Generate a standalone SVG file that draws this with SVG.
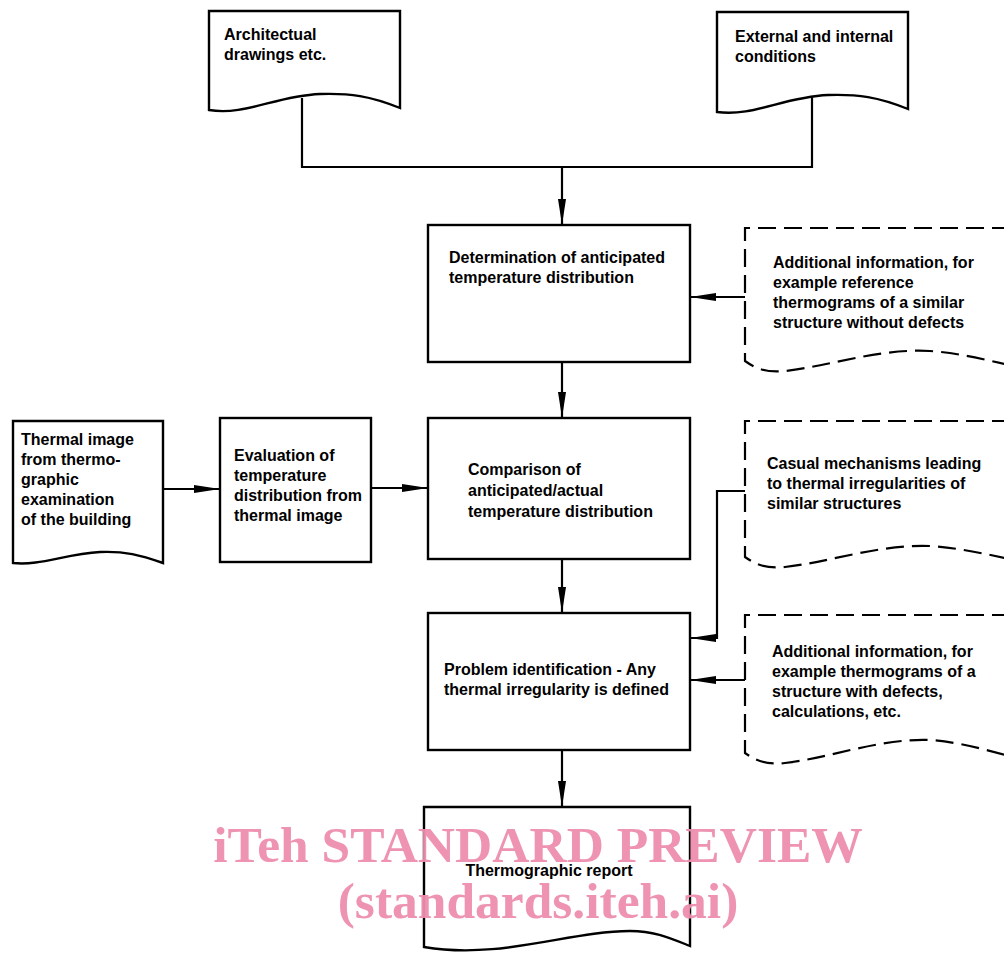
<svg xmlns="http://www.w3.org/2000/svg" width="1004" height="955" viewBox="0 0 1004 955">
<style>
.n{fill:#fff;stroke:#000;stroke-width:2.4}
.d{fill:#fff;stroke:#000;stroke-width:2.2;stroke-dasharray:18 8}
.t{font-family:"Liberation Sans",Arial,sans-serif;font-size:16px;font-weight:bold;fill:#000}
.c{fill:none;stroke:#000;stroke-width:2.2}
.w{font-family:"Liberation Serif","Times New Roman",serif;font-weight:bold;font-size:51.5px;fill:#ee8fae;opacity:0.95}
</style>
<defs>
<marker id="ah" viewBox="0 0 26 10" refX="26" refY="5" markerWidth="26" markerHeight="10" markerUnits="userSpaceOnUse" orient="auto">
<path d="M0,1 L26,5 L0,9 Z" fill="#000"/>
</marker>
</defs>
<rect width="1004" height="955" fill="#fff"/>

<g id="connectors">
<path class="c" d="M302,98 V167 H812 V97"/>
<path class="c" d="M562,167 V225" marker-end="url(#ah)"/>
<path class="c" d="M745,297 H690" marker-end="url(#ah)"/>
<path class="c" d="M562,362 V418" marker-end="url(#ah)"/>
<path class="c" d="M163,489 H220" marker-end="url(#ah)"/>
<path class="c" d="M371,488 H428" marker-end="url(#ah)"/>
<path class="c" d="M745,491 H717 V638 H690" marker-end="url(#ah)"/>
<path class="c" d="M562,559 V613" marker-end="url(#ah)"/>
<path class="c" d="M745,680 H690" marker-end="url(#ah)"/>
<path class="c" d="M562,750 V807" marker-end="url(#ah)"/>
</g>

<g id="arch">
<path class="n" d="M209,11 H400 V108 C370,96 350,93 320,94 C275,96 245,116 209,110 Z"/>
<text class="t" x="224" y="40">Architectual</text>
<text class="t" x="224" y="60">drawings etc.</text>
</g>

<g id="ext">
<path class="n" d="M717,12 H908 V109 C878,97 858,94 828,95 C783,97 753,117 717,112 Z"/>
<text class="t" x="735" y="42">External and internal</text>
<text class="t" x="735" y="62">conditions</text>
</g>

<g id="determination">
<rect class="n" x="428" y="225" width="262" height="137"/>
<text class="t" x="449" y="263">Determination of anticipated</text>
<text class="t" x="449" y="283">temperature distribution</text>
</g>

<g id="addinfo1">
<path class="d" d="M1010,228 H745 V361 C755,368 765,373 785,371 C830,366 880,348 930,351 C960,353 985,360 1010,365"/>
<text class="t" x="773" y="268">Additional information, for</text>
<text class="t" x="773" y="288">example reference</text>
<text class="t" x="773" y="308">thermograms of a similar</text>
<text class="t" x="773" y="328">structure without defects</text>
</g>

<g id="thermal">
<path class="n" d="M13,421 H163 V563 C140,555 125,551 100,552 C65,554 40,566 13,563 Z"/>
<text class="t" x="21" y="445">Thermal image</text>
<text class="t" x="21" y="465">from thermo-</text>
<text class="t" x="21" y="485">graphic</text>
<text class="t" x="21" y="505">examination</text>
<text class="t" x="21" y="525">of the building</text>
</g>

<g id="evaluation">
<rect class="n" x="220" y="418" width="151" height="144"/>
<text class="t" x="234" y="461">Evaluation of</text>
<text class="t" x="234" y="481">temperature</text>
<text class="t" x="234" y="501">distribution from</text>
<text class="t" x="234" y="521">thermal image</text>
</g>

<g id="comparison">
<rect class="n" x="428" y="418" width="262" height="141"/>
<text class="t" x="468" y="475">Comparison of</text>
<text class="t" x="468" y="496">anticipated/actual</text>
<text class="t" x="468" y="517">temperature distribution</text>
</g>

<g id="casual">
<path class="d" d="M1010,421 H745 V557 C755,564 765,569 785,567 C830,562 880,544 930,546 C960,548 985,554 1010,559"/>
<text class="t" x="767" y="469">Casual mechanisms leading</text>
<text class="t" x="767" y="489">to thermal irregularities of</text>
<text class="t" x="767" y="509">similar structures</text>
</g>

<g id="problem">
<rect class="n" x="428" y="613" width="262" height="137"/>
<text class="t" x="444" y="675">Problem identification - Any</text>
<text class="t" x="444" y="695">thermal irregularity is defined</text>
</g>

<g id="addinfo2">
<path class="d" d="M1010,615 H745 V753 C755,760 765,765 785,763 C830,758 880,738 930,740 C960,742 985,750 1010,756"/>
<text class="t" x="772" y="657">Additional information, for</text>
<text class="t" x="772" y="677">example thermograms of a</text>
<text class="t" x="772" y="697">structure with defects,</text>
<text class="t" x="772" y="717">calculations, etc.</text>
</g>

<g id="report">
<path class="n" d="M424,807 H690 V946 C670,938 655,931 630,931 C570,931 500,960 424,947 Z"/>
<text class="t" x="549" y="876" text-anchor="middle">Thermographic report</text>
</g>

<g id="watermark">
<text class="w" x="538" y="862" text-anchor="middle">iTeh STANDARD PREVIEW</text>
<text class="w" x="538" y="918" text-anchor="middle">(standards.iteh.ai)</text>
</g>
</svg>
